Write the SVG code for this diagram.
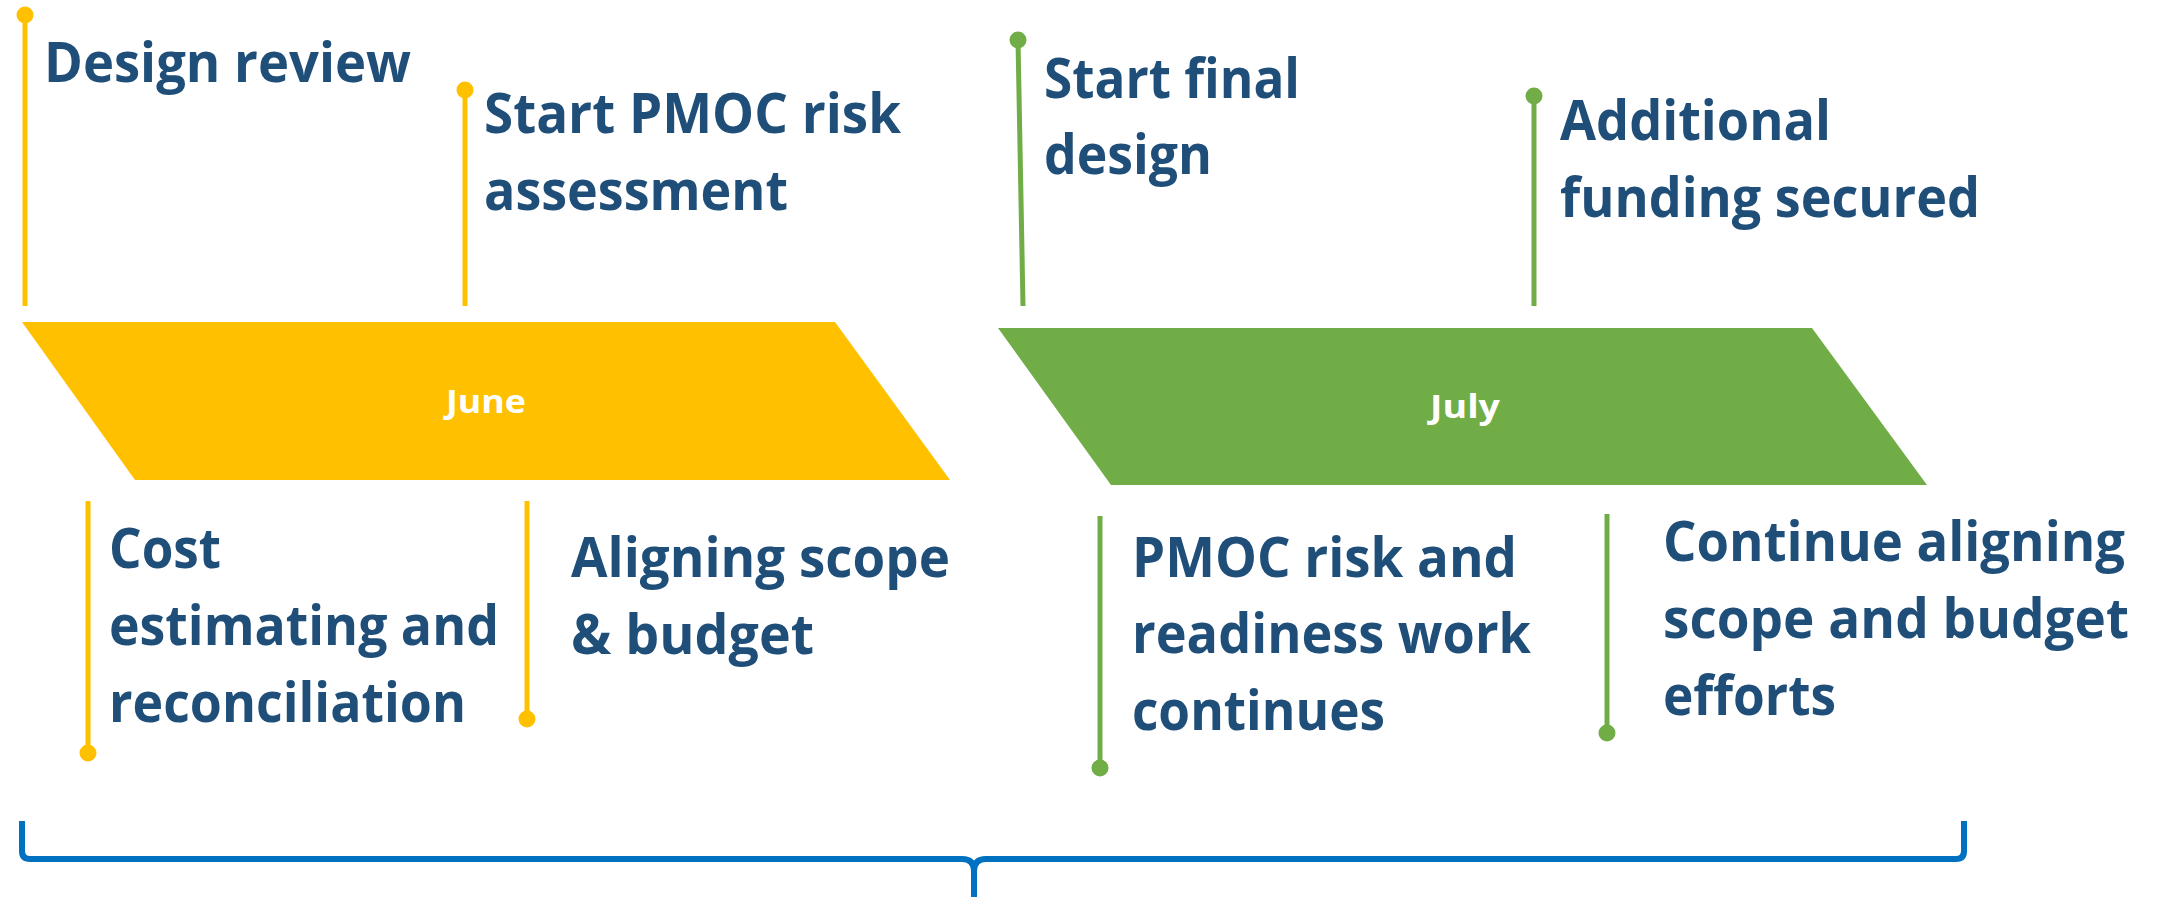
<svg xmlns="http://www.w3.org/2000/svg" width="2161" height="897" viewBox="0 0 2161 897">
<style>
.t{font-family:"Open Sans","Noto Sans","Liberation Sans",sans-serif;font-weight:700;font-size:56px;fill:#1F4E79}
.m{font-family:"Open Sans","Noto Sans","Liberation Sans",sans-serif;font-weight:700;font-size:33px;fill:#FFFFFF;text-anchor:middle}
.y{stroke:#FFC000;stroke-width:5;fill:none}
.g{stroke:#70AD47;stroke-width:5;fill:none}
.yd{fill:#FFC000}
.gd{fill:#70AD47}
</style>
<rect width="2161" height="897" fill="#FFFFFF"/>
<g id="june">
<polygon points="22,322 835,322 950,480 135,480" fill="#FFC000"/>
<text class="m" x="486" y="413" textLength="80" lengthAdjust="spacingAndGlyphs">June</text>
</g>
<g id="july">
<polygon points="998,328 1812,328 1927,485 1111,485" fill="#70AD47"/>
<text class="m" x="1465" y="418" textLength="70" lengthAdjust="spacingAndGlyphs">July</text>
</g>
<g id="design-review">
<line class="y" x1="25" y1="15" x2="25" y2="306"/>
<circle class="yd" cx="25" cy="15" r="8.5"/>
<text class="t" x="44" y="82" textLength="367" lengthAdjust="spacingAndGlyphs">Design review</text>
</g>
<g id="start-pmoc">
<line class="y" x1="465" y1="90" x2="465" y2="306"/>
<circle class="yd" cx="465" cy="90" r="8.5"/>
<text class="t" x="484" y="133" textLength="417" lengthAdjust="spacingAndGlyphs">Start PMOC risk</text>
<text class="t" x="484" y="210" textLength="304" lengthAdjust="spacingAndGlyphs">assessment</text>
</g>
<g id="cost-estimating">
<line class="y" x1="88" y1="501" x2="88" y2="753"/>
<circle class="yd" cx="88" cy="753" r="8.5"/>
<text class="t" x="109" y="568" textLength="112" lengthAdjust="spacingAndGlyphs">Cost</text>
<text class="t" x="109" y="645" textLength="390" lengthAdjust="spacingAndGlyphs">estimating and</text>
<text class="t" x="109" y="722" textLength="357" lengthAdjust="spacingAndGlyphs">reconciliation</text>
</g>
<g id="aligning-scope">
<line class="y" x1="527" y1="501" x2="527" y2="719"/>
<circle class="yd" cx="527" cy="719" r="8.5"/>
<text class="t" x="571" y="577" textLength="379" lengthAdjust="spacingAndGlyphs">Aligning scope</text>
<text class="t" x="571" y="654" textLength="243" lengthAdjust="spacingAndGlyphs">&amp; budget</text>
</g>
<g id="start-final">
<line class="g" x1="1018" y1="40" x2="1023" y2="306"/>
<circle class="gd" cx="1018" cy="40" r="8.5"/>
<text class="t" x="1044" y="98" textLength="256" lengthAdjust="spacingAndGlyphs">Start final</text>
<text class="t" x="1044" y="174" textLength="168" lengthAdjust="spacingAndGlyphs">design</text>
</g>
<g id="additional-funding">
<line class="g" x1="1534" y1="96" x2="1534" y2="306"/>
<circle class="gd" cx="1534" cy="96" r="8.5"/>
<text class="t" x="1560" y="140" textLength="271" lengthAdjust="spacingAndGlyphs">Additional</text>
<text class="t" x="1560" y="217" textLength="420" lengthAdjust="spacingAndGlyphs">funding secured</text>
</g>
<g id="pmoc-continues">
<line class="g" x1="1100" y1="516" x2="1100" y2="768"/>
<circle class="gd" cx="1100" cy="768" r="8.5"/>
<text class="t" x="1132" y="577" textLength="385" lengthAdjust="spacingAndGlyphs">PMOC risk and</text>
<text class="t" x="1132" y="653" textLength="399" lengthAdjust="spacingAndGlyphs">readiness work</text>
<text class="t" x="1132" y="730" textLength="253" lengthAdjust="spacingAndGlyphs">continues</text>
</g>
<g id="continue-aligning">
<line class="g" x1="1607" y1="514" x2="1607" y2="733"/>
<circle class="gd" cx="1607" cy="733" r="8.5"/>
<text class="t" x="1663" y="561" textLength="462" lengthAdjust="spacingAndGlyphs">Continue aligning</text>
<text class="t" x="1663" y="638" textLength="466" lengthAdjust="spacingAndGlyphs">scope and budget</text>
<text class="t" x="1663" y="715" textLength="173" lengthAdjust="spacingAndGlyphs">efforts</text>
</g>
<g id="connectors">
<path d="M22,821 L22,851 Q22,859 30,859 L962,859 Q974,859 974,871 L974,897 M974,871 Q974,859 986,859 L1956,859 Q1964,859 1964,851 L1964,821" fill="none" stroke="#0070C0" stroke-width="6"/>
</g>
</svg>
